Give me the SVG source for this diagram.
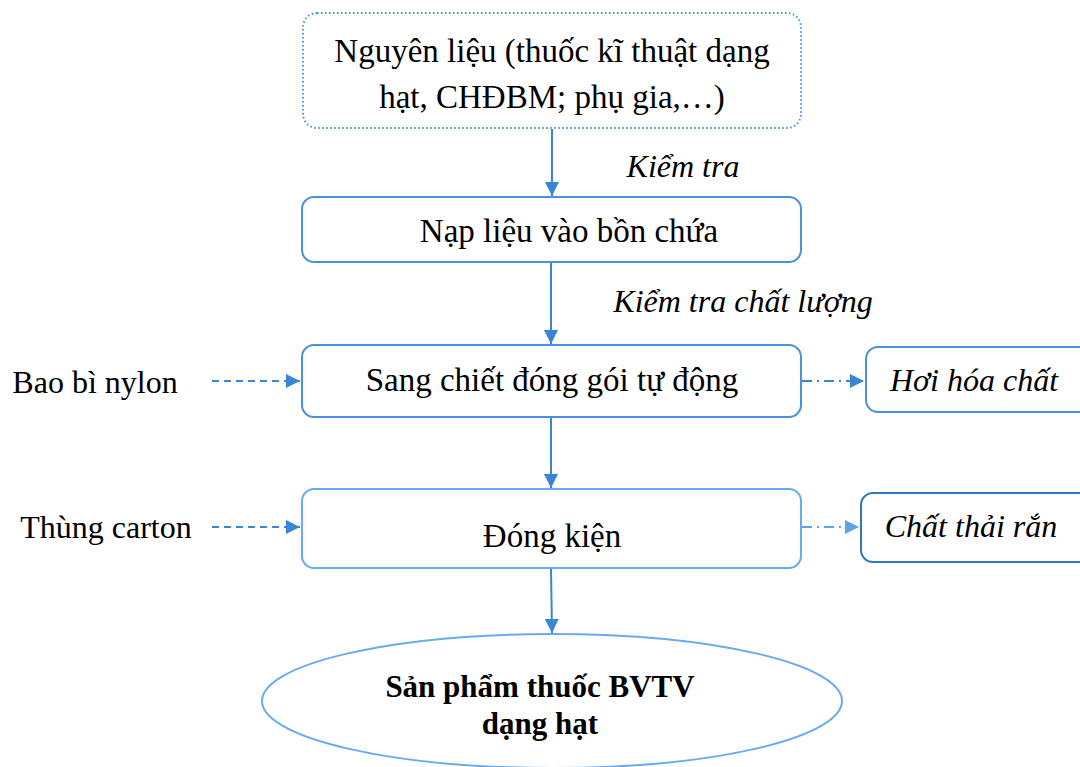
<svg xmlns="http://www.w3.org/2000/svg" width="1080" height="767" viewBox="0 0 1080 767" font-family="Liberation Serif, serif">
<defs>
<marker id="ah" viewBox="0 0 10 10" refX="10" refY="5" markerWidth="7" markerHeight="7" orient="auto" markerUnits="strokeWidth">
<path d="M0,0 L10,5 L0,10 z" fill="#3a86d6"/>
</marker>
<marker id="ahl" viewBox="0 0 10 10" refX="10" refY="5" markerWidth="7" markerHeight="7" orient="auto" markerUnits="strokeWidth">
<path d="M0,0 L10,5 L0,10 z" fill="#5ea2ee"/>
</marker>
<style>
.t{font-family:'Liberation Serif','Times New Roman',serif;font-size:32px;fill:#000;text-anchor:middle}
.m{font-size:33px}
.i{font-style:italic}
.b{font-weight:bold;font-size:31px}
.box{fill:#fff;stroke:#4a90e2;stroke-width:2}
.line{stroke:#3a86d6;stroke-width:2;fill:none}
</style>
</defs>
<rect width="1080" height="767" fill="#fff"/>
<g id="connectors">
<line class="line" x1="552" y1="129" x2="552" y2="196" marker-end="url(#ah)"/>
<line class="line" x1="551" y1="263" x2="551" y2="344" marker-end="url(#ah)"/>
<line class="line" x1="551" y1="418" x2="551" y2="488" marker-end="url(#ah)"/>
<line class="line" x1="551" y1="569" x2="552" y2="633" marker-end="url(#ah)"/>
<line class="line" x1="212" y1="381" x2="300" y2="381" stroke-dasharray="7,5" marker-end="url(#ah)"/>
<line class="line" x1="212" y1="527" x2="300" y2="527" stroke-dasharray="7,5" marker-end="url(#ah)"/>
<line class="line" x1="802" y1="381" x2="864" y2="381" stroke-dasharray="10,5,2,5" marker-end="url(#ah)"/>
<line x1="802" y1="527" x2="859" y2="527" stroke="#5ea2ee" stroke-width="2" stroke-dasharray="10,5,2,5" marker-end="url(#ahl)"/>
<text class="t i" x="683" y="177">Kiểm tra</text>
<text class="t i" x="743" y="312">Kiểm tra chất lượng</text>
</g>
<g id="n1">
<rect x="303" y="13" width="498" height="115" rx="14" fill="#fff" stroke="#4a90e2" stroke-width="2" stroke-dasharray="1.5,2.5"/>
<text class="t m" x="552" y="62">Nguyên liệu (thuốc kĩ thuật dạng</text>
<text class="t m" x="552" y="108">hạt, CHĐBM; phụ gia,…)</text>
</g>
<g id="n2">
<rect class="box" x="302" y="197" width="499" height="65" rx="12"/>
<text class="t m" x="569" y="242">Nạp liệu vào bồn chứa</text>
</g>
<g id="n3">
<rect class="box" x="302" y="345" width="499" height="72" rx="12"/>
<text class="t m" x="552" y="391">Sang chiết đóng gói tự động</text>
</g>
<g id="n4">
<rect x="302" y="489" width="499" height="79" rx="12" fill="#fff" stroke="#6aaaf2" stroke-width="2"/>
<text class="t m" x="552" y="547">Đóng kiện</text>
</g>
<g id="n5">
<text class="t" x="95" y="393">Bao bì nylon</text>
</g>
<g id="n6">
<text class="t" x="106" y="538">Thùng carton</text>
</g>
<g id="n7">
<rect class="box" x="866" y="347" width="230" height="65" rx="12"/>
<text class="t i" x="974" y="391">Hơi hóa chất</text>
</g>
<g id="n8">
<rect x="861" y="493" width="235" height="69" rx="12" fill="#fff" stroke="#2e75c6" stroke-width="2"/>
<text class="t i" x="971" y="537">Chất thải rắn</text>
</g>
<g id="n9">
<ellipse cx="552" cy="701" rx="290" ry="67" fill="#fff" stroke="#6aaaf2" stroke-width="2"/>
<text class="t b" x="540" y="697">Sản phẩm thuốc BVTV</text>
<text class="t b" x="540" y="734">dạng hạt</text>
</g>
</svg>
